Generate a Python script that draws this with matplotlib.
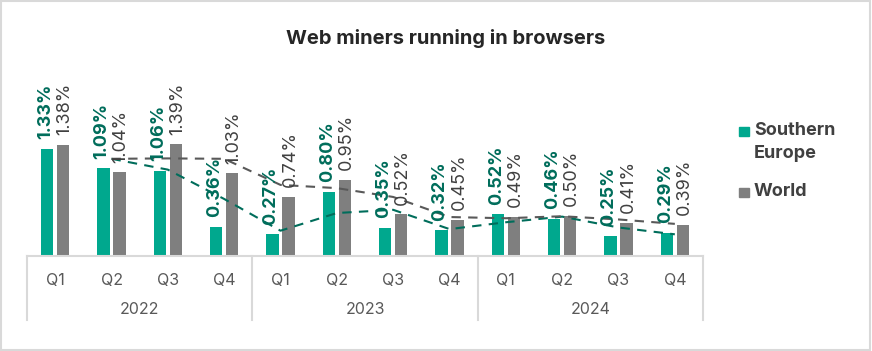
import numpy as np
import pandas as pd
import matplotlib
matplotlib.use('Agg')
import matplotlib.pyplot as plt
from matplotlib.patches import Rectangle
import matplotlib.transforms as mtransforms

plt.rcParams['font.family'] = ['Inter', 'DejaVu Sans']

years = ['2022', '2023', '2024']
quarters = ['Q1', 'Q2', 'Q3', 'Q4'] * 3
southern_europe = [1.33, 1.09, 1.06, 0.36, 0.27, 0.80, 0.35, 0.32, 0.52, 0.46, 0.25, 0.29]
world = [1.38, 1.04, 1.39, 1.03, 0.74, 0.95, 0.52, 0.45, 0.49, 0.50, 0.41, 0.39]

green = '#00A88E'
green_dark = '#006D5B'
grey = '#7F7F7F'
grey_dark = '#595959'
text_col = '#404040'
line_col = '#D9D9D9'

fig = plt.figure(figsize=(8.72, 3.51), dpi=100)
ax = fig.add_axes([27 / 872, 1 - 256 / 351, 676 / 872, 196 / 351])

x = np.arange(len(quarters))
w = 0.215
off = 0.142
ax.bar(x - off, southern_europe, w, color=green, zorder=2)
ax.bar(x + off, world, w, color=grey, zorder=2)

# 2-period moving average trend lines
se_ma = pd.Series(southern_europe).rolling(2).mean()
w_ma = pd.Series(world).rolling(2).mean()
ax.plot(x, se_ma, color=green_dark, lw=1.5, ls=(0, (4.5, 3.5)), zorder=3)
ax.plot(x, w_ma, color=grey_dark, lw=1.5, ls=(0, (4.5, 3.5)), zorder=3)

for xi, v in zip(x, southern_europe):
    ax.annotate(f'{v:.2f}%', (xi - off, v), xytext=(-1, 7), textcoords='offset points',
                rotation=90, ha='center', va='bottom', fontsize=13,
                fontweight='bold', color=green_dark, zorder=4)
for xi, v in zip(x, world):
    ax.annotate(f'{v:.2f}%', (xi + off, v), xytext=(1, 7), textcoords='offset points',
                rotation=90, ha='center', va='bottom', fontsize=13,
                color=text_col, zorder=4)

ax.set_xlim(-0.5, len(quarters) - 0.5)
ax.set_ylim(0, 2.44)
ax.set_yticks([])
ax.set_xticks(x)
ax.set_xticklabels(quarters, fontsize=11.5, color=grey_dark)
ax.tick_params(axis='x', length=0, pad=12)
for s in ['top', 'right', 'left']:
    ax.spines[s].set_visible(False)
ax.spines['bottom'].set_color(line_col)
ax.spines['bottom'].set_linewidth(1.5)

trans = mtransforms.blended_transform_factory(ax.transData, ax.transAxes)
for b in [-0.5, 3.5, 7.5, 11.5]:
    ax.plot([b, b], [0, -0.327], transform=trans, color=line_col, lw=1.5, clip_on=False)
for i, yr in enumerate(years):
    ax.text(i * 4 + 1.5, -0.275, yr, transform=trans, ha='center', va='center',
            fontsize=11.5, color=grey_dark)

fig.text(446 / 872, 1 - 38 / 351, 'Web miners running in browsers', ha='center', va='center',
         fontsize=14.5, fontweight='bold', color='#262626')

# legend
fig.patches.append(Rectangle((739 / 872, 1 - 136 / 351), 10 / 872, 9 / 351,
                             transform=fig.transFigure, color=green))
fig.text(754 / 872, 1 - 131 / 351, 'Southern', ha='left', va='center',
         fontsize=13, fontweight='bold', color=text_col)
fig.text(754 / 872, 1 - 153 / 351, 'Europe', ha='left', va='center',
         fontsize=13, fontweight='bold', color=text_col)
fig.patches.append(Rectangle((739 / 872, 1 - 197 / 351), 10 / 872, 9 / 351,
                             transform=fig.transFigure, color=grey))
fig.text(754 / 872, 1 - 191 / 351, 'World', ha='left', va='center',
         fontsize=13, fontweight='bold', color=text_col)

fig.patches.append(Rectangle((0.001, 0.002), 0.997, 0.995, transform=fig.transFigure,
                             fill=False, edgecolor=line_col, lw=1.5))

fig.savefig('out.png', dpi=100)
